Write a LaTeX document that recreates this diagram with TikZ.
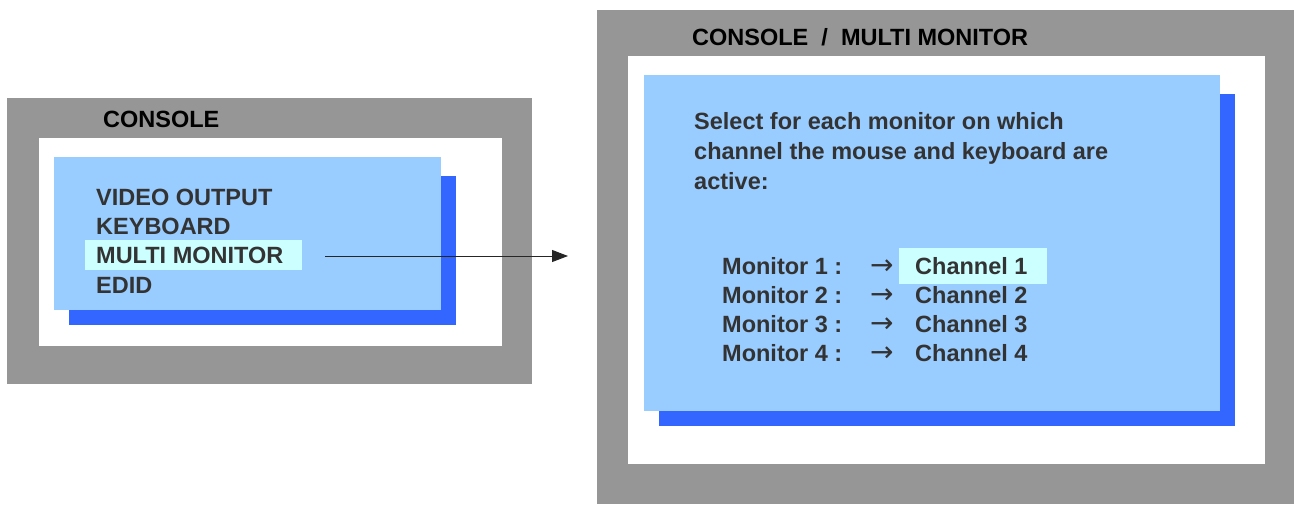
\documentclass[tikz,border=0pt]{standalone}
\usepackage{fontspec}
\setmainfont{Liberation Sans}
\newfontfamily\symfont{DejaVu Sans}
\usetikzlibrary{arrows.meta}
\definecolor{frameg}{HTML}{969696}
\definecolor{lightb}{HTML}{99CCFF}
\definecolor{darkb}{HTML}{3366FF}
\definecolor{hilite}{HTML}{CCFFFF}
\definecolor{txt}{HTML}{333333}
\tikzset{
  lbl/.style={anchor=base west, inner sep=0pt, font=\bfseries\fontsize{23.5}{29}\selectfont, text=txt},
  ttl/.style={anchor=base west, inner sep=0pt, font=\bfseries\fontsize{23.5}{29}\selectfont, text=black},
  arr/.style={anchor=base west, inner sep=0pt, font=\symfont\fontsize{28}{30}\selectfont, text=txt},
  conn/.style={draw=black!85, line width=0.9pt, -{Triangle[length=16pt,width=12pt]}}
}
\begin{document}
\begin{tikzpicture}[x=1pt,y=-1pt]
\useasboundingbox (0,0) rectangle (1302,504);
% left panel
\fill[frameg] (7,98) rectangle (532,384);
\fill[white] (39,138) rectangle (502,346);
\fill[darkb] (69,176) rectangle (456,325);
\fill[lightb] (54,157) rectangle (441,310);
\fill[hilite] (85,240) rectangle (302,270);
\node[ttl] (t1) at (103,127.5) {CONSOLE};
\node[lbl] (m1) at (96,205.5) {VIDEO OUTPUT};
\node[lbl] (m2) at (96,234.5) {KEYBOARD};
\node[lbl] (m3) at (96,263.5) {MULTI MONITOR};
\node[lbl] (m4) at (96,293.5) {EDID};
% right panel
\fill[frameg] (597,10) rectangle (1294,504);
\fill[white] (628,56) rectangle (1265,464);
\fill[darkb] (659,94) rectangle (1235,426);
\fill[lightb] (644,75) rectangle (1220,411);
\fill[hilite] (899,248) rectangle (1047,284);
\node[ttl] (t2) at (692,45.5) {CONSOLE~~/~~MULTI MONITOR};
\node[lbl] (s1) at (694,129.5) {Select for each monitor on which};
\node[lbl] (s2) at (694,159.5) {channel the mouse and keyboard are};
\node[lbl] (s3) at (694,189.5) {active:};
\foreach \i/\y in {1/274.5,2/303.5,3/332.5,4/361.5}{
  \node[lbl] (mon\i) at (722,\y) {Monitor \i~:};
  \node[arr] (ar\i) at (870,\y) {→};
  \node[lbl] (ch\i) at (915,\y) {Channel \i};
}
% connector
\coordinate (cs) at (325,256);
\coordinate (ce) at (568,256);
\draw[conn] (cs) -- (ce);
\end{tikzpicture}
\end{document}
